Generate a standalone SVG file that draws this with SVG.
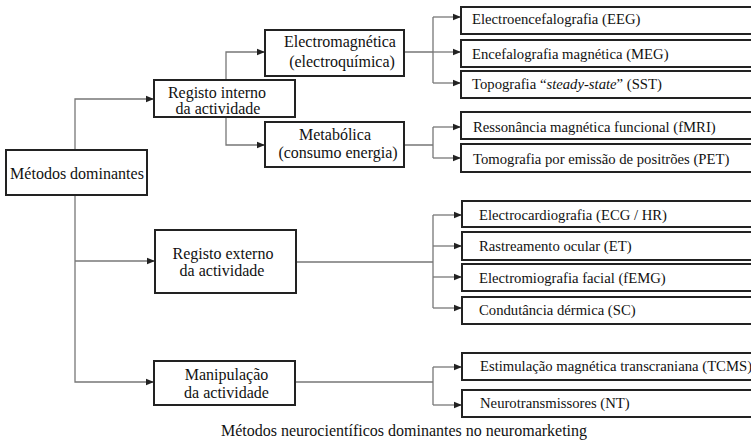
<svg xmlns="http://www.w3.org/2000/svg" width="751" height="444" viewBox="0 0 751 444">
<defs>
<marker id="arr" markerUnits="userSpaceOnUse" markerWidth="9" markerHeight="8" refX="8" refY="4" orient="auto">
<path d="M0,0.8 L8,4 L0,7.2 Z" fill="#222"/>
</marker>
<style>
.box{fill:#fff;stroke:#222;stroke-width:2}
text{font-family:'Liberation Serif','Times New Roman',serif;font-size:16px;fill:#111}
.c{text-anchor:middle}
.s{font-size:14.7px}
.con path{fill:none;stroke:#777;stroke-width:1.3}
.con path.a{marker-end:url(#arr)}
</style>
</defs>
<rect width="751" height="444" fill="#fff"/>
<g id="connectors" class="con">
<path class="a" d="M75,150 V99 H154"/>
<path class="a" d="M75,195 V382 H154"/>
<path class="a" d="M75,261 H155"/>
<path class="a" d="M226,80 V52 H265"/>
<path class="a" d="M226,117 V145 H265"/>
<path d="M404,52 H433 M433,17 V83"/>
<path class="a" d="M433,17 H461"/>
<path class="a" d="M433,52 H461"/>
<path class="a" d="M433,83 H461"/>
<path d="M404,145 H433 M433,127 V158"/>
<path class="a" d="M433,127 H461"/>
<path class="a" d="M433,158 H461"/>
<path d="M296,262 H433 M433,215 V308"/>
<path class="a" d="M433,215 H462"/>
<path class="a" d="M433,246 H462"/>
<path class="a" d="M433,277 H462"/>
<path class="a" d="M433,308 H462"/>
<path d="M295,382 H433 M433,367 V405"/>
<path class="a" d="M433,367 H462"/>
<path class="a" d="M433,405 H462"/>
</g>
<g id="n-root"><rect class="box" x="6" y="150" width="141" height="45"/><text class="c" x="77" y="179">Métodos dominantes</text></g>
<g id="n-interno"><rect class="box" x="154" y="80" width="141" height="37"/><text class="c" x="217" y="97.5">Registo interno</text><text class="c" x="218" y="114">da actividade</text></g>
<g id="n-electromag"><rect class="box" x="265" y="30" width="139" height="46"/><text class="c" x="340" y="47">Electromagnética</text><text class="c" x="342" y="67">(electroquímica)</text></g>
<g id="n-metabolica"><rect class="box" x="265" y="122" width="139" height="45"/><text class="c" x="335" y="140">Metabólica</text><text class="c" x="338" y="158">(consumo energia)</text></g>
<g id="n-externo"><rect class="box" x="155" y="230" width="141" height="63"/><text class="c" x="223" y="259">Registo externo</text><text class="c" x="222" y="275.5">da actividade</text></g>
<g id="n-manip"><rect class="box" x="154" y="361" width="141" height="44"/><text class="c" x="226.5" y="380">Manipulação</text><text class="c" x="226.5" y="398">da actividade</text></g>
<g id="n-eeg"><rect class="box" x="461" y="7" width="300" height="27"/><text class="s" x="472" y="24">Electroencefalografia (EEG)</text></g>
<g id="n-meg"><rect class="box" x="461" y="40" width="300" height="27"/><text class="s" x="472" y="58.5">Encefalografia magnética (MEG)</text></g>
<g id="n-sst"><rect class="box" x="461" y="71" width="300" height="27"/><text class="s" x="472" y="89">Topografia “<tspan font-style="italic">steady-state</tspan>” (SST)</text></g>
<g id="n-fmri"><rect class="box" x="461" y="112" width="300" height="27"/><text class="s" x="473" y="131.5">Ressonância magnética funcional (fMRI)</text></g>
<g id="n-pet"><rect class="box" x="461" y="144" width="300" height="28"/><text class="s" x="473" y="163.5">Tomografia por emissão de positrões (PET)</text></g>
<g id="n-ecg"><rect class="box" x="462" y="201" width="300" height="26"/><text class="s" x="479" y="219.5">Electrocardiografia (ECG / HR)</text></g>
<g id="n-et"><rect class="box" x="462" y="232" width="300" height="28"/><text class="s" x="479" y="251">Rastreamento ocular (ET)</text></g>
<g id="n-femg"><rect class="box" x="462" y="264" width="300" height="27"/><text class="s" x="479" y="282.5">Electromiografia facial (fEMG)</text></g>
<g id="n-sc"><rect class="box" x="462" y="297" width="300" height="27"/><text class="s" x="479" y="314.5">Condutância dérmica (SC)</text></g>
<g id="n-tcms"><rect class="box" x="462" y="353" width="300" height="27"/><text class="s" x="480" y="371">Estimulação magnética transcraniana (TCMS)</text></g>
<g id="n-nt"><rect class="box" x="462" y="390" width="300" height="27"/><text class="s" x="480" y="408">Neurotransmissores (NT)</text></g>
<text class="c" x="404" y="435.5">Métodos neurocientíficos dominantes no neuromarketing</text>
</svg>
